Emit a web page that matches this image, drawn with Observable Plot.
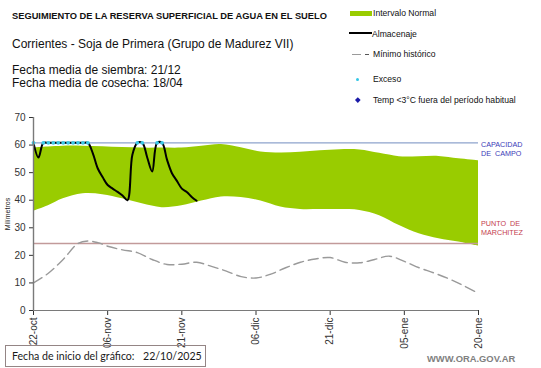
<!DOCTYPE html>
<html>
<head>
<meta charset="utf-8">
<script src="https://cdn.jsdelivr.net/npm/d3@7"></script>
<script src="https://cdn.jsdelivr.net/npm/@observablehq/plot@0.6"></script>
<style>
  html, body { margin: 0; padding: 0; background: #fff; }
  #wrap { position: relative; width: 541px; height: 368px; overflow: hidden; font-family: "Liberation Sans", Arial, sans-serif; color: #111; }
  #chart { position: absolute; left: 0; top: 0; }
  .t { position: absolute; white-space: nowrap; }
  .sym { position: absolute; }
</style>
</head>
<body>
<div id="wrap">
  <div id="chart"></div>
  <div class="t" id="title" style="left:12px; top:10px; font-size:9.3px; font-weight:bold; line-height:12px;">SEGUIMIENTO DE LA RESERVA SUPERFICIAL DE AGUA EN EL SUELO</div>
  <div class="t" id="subtitle" style="left:12px; top:37px; font-size:12px; line-height:14px;"></div>
  <div class="t" id="siembra" style="left:12px; top:63px; font-size:12px; line-height:14px;"></div>
  <div class="t" id="cosecha" style="left:12px; top:76px; font-size:12px; line-height:14px;"></div>

  <div class="sym" style="left:350px; top:11px; width:22px; height:5px; background:#99cc00;"></div>
  <div class="t" style="left:373px; top:7px; font-size:8.6px; line-height:12px;">Intervalo Normal</div>
  <div class="sym" style="left:349px; top:32px; width:23px; height:2px; background:#000;"></div>
  <div class="t" style="left:372px; top:27.5px; font-size:8.6px; line-height:12px;">Almacenaje</div>
  <div class="sym" style="left:352px; top:53.5px; width:9px; height:1.3px; background:#9a9a9a;"></div>
  <div class="sym" style="left:364.5px; top:53.5px; width:4px; height:1.2px; background:#555;"></div>
  <div class="t" style="left:373px; top:48px; font-size:8.6px; line-height:12px;">Mínimo histórico</div>
  <div class="sym" style="left:355.5px; top:77.5px; width:3.5px; height:3.5px; border-radius:50%; background:#33c6e6;"></div>
  <div class="t" style="left:373px; top:73px; font-size:8.6px; line-height:12px;">Exceso</div>
  <div class="sym" style="left:355.5px; top:97.5px; width:3.6px; height:3.6px; background:#1a1aa8; transform:rotate(45deg);"></div>
  <div class="t" style="left:373px; top:93.5px; font-size:8.6px; line-height:12px;">Temp &lt;3°C fuera del período habitual</div>

  <div class="t" style="left:481px; top:140px; font-size:7.2px; line-height:9px; color:#3a3ab8;">CAPACIDAD<br>DE&nbsp;&nbsp;CAMPO</div>
  <div class="t" style="left:481px; top:219px; font-size:7.2px; line-height:9px; color:#c4404e;">PUNTO&nbsp;&nbsp;DE<br>MARCHITEZ</div>

  <div class="t" style="left:-9px; top:209px; width:34px; text-align:center; font-size:7px; line-height:10px; transform:rotate(-90deg); color:#222;">Milímetros</div>

  <div class="sym" style="left:5px; top:345px; width:199px; height:20px; border:1px solid #948585;"></div>
  <div class="t" id="inicioLabel" style="left:12px; top:349px; font-family:Lato, 'Open Sans', sans-serif; font-size:10.6px; line-height:14px; color:#1a1a1a;"></div>
  <div class="t" id="inicioValue" style="left:143px; top:349px; font-family:Lato, 'Open Sans', sans-serif; font-size:10.6px; line-height:14px; color:#1a1a1a;"></div>
  <div class="t" style="left:427px; top:353px; font-size:9.4px; font-weight:bold; line-height:12px; color:#808080;">WWW.ORA.GOV.AR</div>
</div>
<script>
// ---- texts ----
const subtitleText = "Corrientes - Soja de Primera (Grupo de Madurez VII)";
const siembraText = "Fecha media de siembra: 21/12";
const cosechaText = "Fecha media de cosecha: 18/04";
const inicioLabel = "Fecha de inicio del gráfico:";
const inicioFecha = "22/10/2025";

// ---- x axis (days since 22-oct) ----
const tickDays = [0, 15, 30, 45, 60, 75, 90];
const tickLabels = ["22-oct", "06-nov", "21-nov", "06-dic", "21-dic", "05-ene", "20-ene"];
const yTicks = [0, 10, 20, 30, 40, 50, 60, 70];

// ---- reference levels (mm) ----
const capacidadCampo = 60.8;
const puntoMarchitez = 24.3;

// ---- intervalo normal ----
const bandDays = [0, 3, 6, 10, 14, 18, 22, 26, 30, 34, 38, 42, 46, 50, 54, 58, 62, 66, 70, 74, 78, 82, 86, 90];
const bandLow  = [36, 38, 40.5, 42.3, 42, 40.5, 38.7, 37.3, 38, 39.7, 41.2, 41, 39.7, 37.5, 36.6, 36.6, 36.6, 36.3, 34.4, 30.8, 27.8, 26, 24.8, 23.3];
const bandHigh = [59, 59.3, 59.6, 59.6, 59.4, 59.1, 58.9, 58.9, 58.9, 59.6, 60.2, 59, 57.5, 57.1, 57.4, 57.9, 58.3, 58.2, 57, 55.8, 55.8, 55.9, 55, 54.3];

// ---- almacenaje ----
const almDays   = [0, 1, 2, 3, 4, 5, 6, 7, 8, 9, 10, 11, 12, 13, 14, 15, 16, 17, 18, 19, 20, 21, 22, 23, 24, 25, 26, 27, 28, 29, 30, 31, 32, 33];
const almValues = [60.8, 55.5, 60.8, 60.8, 60.8, 60.8, 60.8, 60.8, 60.8, 60.8, 60.8, 60.8, 57, 51.5, 48.3, 45.5, 44.2, 43, 41.7, 40, 56.5, 60.8, 60.8, 55.5, 50.4, 60.8, 60.8, 54.7, 49.8, 47, 44.2, 43, 41.2, 39.8];

// ---- exceso ----
const excesoDays   = [0, 2, 3, 4, 5, 6, 7, 8, 9, 10, 11, 21, 22, 25, 26];
const excesoValues = [60.8, 60.8, 60.8, 60.8, 60.8, 60.8, 60.8, 60.8, 60.8, 60.8, 60.8, 60.8, 60.8, 60.8, 60.8];

// ---- minimo historico ----
const minDays   = [0, 3, 6, 9, 11, 13, 15, 18, 21, 24, 27, 30, 33, 36, 39, 42, 45, 48, 51, 54, 57, 60, 63, 66, 69, 72, 75, 78, 81, 84, 87, 90];
const minValues = [10, 13.5, 18.5, 24.3, 25.2, 24.6, 23.3, 22, 21, 18.5, 16.7, 16.8, 17.5, 16, 14.3, 12.3, 11.8, 13.2, 15.5, 17.5, 18.7, 19.2, 17.5, 17.3, 18.5, 19.7, 17.8, 15.5, 13.6, 11.5, 9, 6.2];

document.getElementById("subtitle").textContent = subtitleText;
document.getElementById("siembra").textContent = siembraText;
document.getElementById("cosecha").textContent = cosechaText;
document.getElementById("inicioLabel").textContent = inicioLabel;
document.getElementById("inicioValue").textContent = inicioFecha;

const band = bandDays.map((d, i) => ({d, lo: bandLow[i], hi: bandHigh[i]}));
const alm = almDays.map((d, i) => ({d, v: almValues[i]}));
const exceso = excesoDays.map((d, i) => ({d, v: excesoValues[i]}));
const minimo = minDays.map((d, i) => ({d, v: minValues[i]}));

const chart = Plot.plot({
  width: 541,
  height: 368,
  marginLeft: 33,
  marginRight: 63,
  marginTop: 117,
  marginBottom: 58,
  style: {fontFamily: "'Liberation Sans', Arial, sans-serif", fontSize: "10px", background: "transparent", color: "#222"},
  x: {domain: [0, 90], label: null},
  y: {domain: [0, 70], label: null},
  marks: [
    Plot.areaY(band, {x: "d", y1: "lo", y2: "hi", fill: "#99cc00", curve: "catmull-rom"}),
    Plot.ruleY([capacidadCampo], {stroke: "#8ea3cc", strokeWidth: 1.2}),
    Plot.ruleY([puntoMarchitez], {stroke: "#c29a9a", strokeWidth: 1.3}),
    Plot.line(minimo, {x: "d", y: "v", stroke: "#9a9a9a", strokeWidth: 1.4, strokeDasharray: "10,5", curve: "catmull-rom"}),
    Plot.line(alm, {x: "d", y: "v", stroke: "#000", strokeWidth: 2, curve: "catmull-rom"}),
    Plot.dot(exceso, {x: "d", y: "v", r: 1.9, fill: "#3ccbea"}),
    Plot.axisX({ticks: tickDays, tickFormat: d => tickLabels[tickDays.indexOf(d)], tickRotate: -90, tickSize: 5, tickPadding: 2, color: "#333", label: null}),
    Plot.axisY({ticks: yTicks, tickSize: 4, tickPadding: 4, color: "#333", label: null}),
    Plot.ruleX([0], {stroke: "#7a7a7a", strokeWidth: 1.4}),
    Plot.ruleY([0], {stroke: "#7a7a7a", strokeWidth: 1.2})
  ]
});
document.getElementById("chart").appendChild(chart);
</script>
</body>
</html>
